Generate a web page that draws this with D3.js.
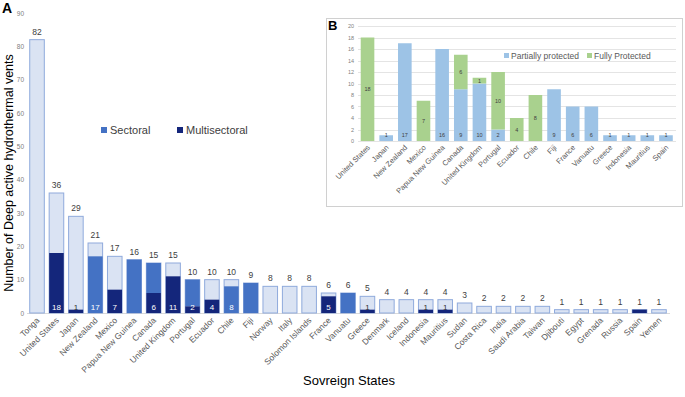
<!DOCTYPE html>
<html lang="en">
<head>
  <meta charset="UTF-8">
  <title>Deep active hydrothermal vents</title>
  <script src="https://d3js.org/d3.v7.min.js"></script>
  <style>
    body { margin: 0; background: #fff; }
    text { font-family: "Liberation Sans", Arial, sans-serif; }
  </style>
</head>
<body>
  <svg width="685" height="397"></svg>
<script>
  // ---- panel A data ----
  const states = ['Tonga', 'United States', 'Japan', 'New Zealand', 'Mexico', 'Papua New Guinea',
    'Canada', 'United Kingdom', 'Portugal', 'Ecuador', 'Chile', 'Fiji', 'Norway', 'Italy',
    'Solomon Islands', 'France', 'Vanuatu', 'Greece', 'Denmark', 'Iceland', 'Indonesia',
    'Mauritius', 'Sudan', 'Costa Rica', 'India', 'Saudi Arabia', 'Taiwan', 'Djibouti', 'Egypt',
    'Grenada', 'Russia', 'Spain', 'Yemen']
  const totals = [82, 36, 29, 21, 17, 16, 15, 15, 10, 10, 10, 9, 8, 8, 8, 6, 6, 5, 4, 4, 4, 4,
    3, 2, 2, 2, 2, 1, 1, 1, 1, 1, 1]
  const multisectoral = [0, 18, 1, 0, 7, 0, 6, 11, 2, 4, 0, 0, 0, 0, 0, 5, 0, 1, 0, 0, 1, 1,
    0, 0, 0, 0, 0, 0, 0, 0, 0, 1, 0]
  const sectoral = [0, 0, 0, 17, 0, 16, 9, 0, 8, 0, 8, 9, 0, 0, 0, 0, 6, 0, 0, 0, 0, 0,
    0, 0, 0, 0, 0, 0, 0, 0, 0, 0, 0]
  // numbers written at the foot of the bars
  const innerLabels = ['', '18', '1', '17', '7', '', '6', '11', '2', '4', '8', '', '', '', '', '5', '',
    '1', '', '', '1', '1', '', '', '', '', '', '', '', '', '', '', '']
  const yTicksA = d3.range(0, 91, 10)

  // ---- panel B data ----
  const statesB = ['United States', 'Japan', 'New Zealand', 'Mexico', 'Papua New Guinea', 'Canada',
    'United Kingdom', 'Portugal', 'Ecuador', 'Chile', 'Fiji', 'France', 'Vanuatu', 'Greece',
    'Indonesia', 'Mauritius', 'Spain']
  const partial = [0, 1, 17, 0, 16, 9, 10, 2, 0, 0, 9, 6, 6, 1, 1, 1, 1]
  const fully = [18, 0, 0, 7, 0, 6, 1, 10, 4, 8, 0, 0, 0, 0, 0, 0, 0]
  const yTicksB = d3.range(0, 21, 2)

  const cLight = '#dae3f3', cLightStroke = '#8faadc', cSect = '#4472c4', cMulti = '#14267b'
  const cPartial = '#9dc3e6', cFull = '#a9d18e'

  const svg = d3.select('svg')

  /**
   * Panel A
   */
  const x = d3.scaleBand().domain(states).range([27.3, 668.7])
    .paddingInner(0.25).paddingOuter(0.125)
  const y = d3.scaleLinear().domain([0, 90]).range([313, 13])

  const gA = svg.append('g')

  gA.append('line')
    .attr('x1', 27).attr('x2', 670).attr('y1', y(0) + 0.5).attr('y2', y(0) + 0.5)
    .attr('stroke', '#d9d9d9')

  gA.append('g')
    .attr('transform', 'translate(24,0)')
    .call(d3.axisLeft(y).tickValues(yTicksA).tickSize(0).tickPadding(0))
    .call(g => g.select('.domain').remove())
    .call(g => g.selectAll('text').attr('fill', '#808080').attr('font-size', '6.5px')
      .style('font-family', '"Liberation Sans", Arial, sans-serif'))

  const bars = gA.selectAll('.barA').data(states).join('g').attr('class', 'barA')

  // unprotected part (whole bar behind)
  bars.append('rect')
    .attr('x', d => x(d))
    .attr('width', x.bandwidth())
    .attr('y', (d, i) => y(totals[i]))
    .attr('height', (d, i) => y(0) - y(totals[i]))
    .attr('fill', cLight)
    .attr('stroke', cLightStroke)
    .attr('stroke-width', 1)

  // sectoral sits on top of multisectoral
  bars.filter((d, i) => sectoral[i] > 0).append('rect')
    .attr('x', d => x(d))
    .attr('width', x.bandwidth())
    .attr('y', d => { const i = states.indexOf(d); return y(multisectoral[i] + sectoral[i]) })
    .attr('height', d => { const i = states.indexOf(d); return y(multisectoral[i]) - y(multisectoral[i] + sectoral[i]) })
    .attr('fill', cSect)

  bars.filter((d, i) => multisectoral[i] > 0).append('rect')
    .attr('x', d => x(d))
    .attr('width', x.bandwidth())
    .attr('y', d => y(multisectoral[states.indexOf(d)]))
    .attr('height', d => y(0) - y(multisectoral[states.indexOf(d)]))
    .attr('fill', cMulti)

  // totals above
  bars.append('text')
    .attr('x', d => x(d) + x.bandwidth() / 2)
    .attr('y', (d, i) => y(totals[i]) - 5)
    .attr('text-anchor', 'middle')
    .attr('font-size', '8.5px')
    .attr('fill', '#404040')
    .text((d, i) => totals[i])

  // labels at the foot
  bars.append('text')
    .attr('x', d => x(d) + x.bandwidth() / 2)
    .attr('y', y(0) - 3)
    .attr('text-anchor', 'middle')
    .attr('font-size', '8px')
    .attr('fill', (d, i) => innerLabels[i] === '1' ? '#303030' : '#ffffff')
    .text((d, i) => innerLabels[i])

  // x labels
  gA.append('g').selectAll('text').data(states).join('text')
    .attr('transform', d => `translate(${x(d) + x.bandwidth() / 2 + 3},${y(0) + 8}) rotate(-45)`)
    .attr('text-anchor', 'end')
    .attr('font-size', '8.5px')
    .attr('fill', '#595959')
    .text(d => d)

  // titles
  gA.append('text')
    .attr('transform', `translate(13,${(y(0) + y(90)) / 2 + 10}) rotate(-90)`)
    .attr('text-anchor', 'middle')
    .attr('font-size', '12.5px')
    .attr('fill', '#000')
    .text('Number of Deep active hydrothermal vents')

  gA.append('text')
    .attr('x', 349).attr('y', 385)
    .attr('text-anchor', 'middle')
    .attr('font-size', '13px')
    .attr('fill', '#000')
    .text('Sovreign States')

  gA.append('text')
    .attr('x', 2).attr('y', 13)
    .attr('font-size', '14px').attr('font-weight', 'bold')
    .text('A')

  // legend A
  const legA = [['Sectoral', cSect, 101], ['Multisectoral', cMulti, 177]]
  const lg = gA.append('g').selectAll('g').data(legA).join('g')
    .attr('transform', d => `translate(${d[2]},127)`)
  lg.append('rect').attr('width', 6).attr('height', 6).attr('fill', d => d[1])
  lg.append('text').attr('x', 9).attr('y', 7).attr('font-size', '11px').attr('fill', '#404040')
    .text(d => d[0])

  /**
   * Panel B (inset)
   */
  const gB = svg.append('g')
  gB.append('rect')
    .attr('x', 326.5).attr('y', 18.5).attr('width', 356).attr('height', 188)
    .attr('fill', '#fff').attr('stroke', '#d0d0d0')

  const xB = d3.scaleBand().domain(statesB).range([358.2, 675.3])
    .paddingInner(0.27).paddingOuter(0.135)
  const yB = d3.scaleLinear().domain([0, 20]).range([141, 26])

  gB.append('g').selectAll('line').data(yTicksB).join('line')
    .attr('x1', 358).attr('x2', 676)
    .attr('y1', d => Math.round(yB(d)) + 0.5).attr('y2', d => Math.round(yB(d)) + 0.5)
    .attr('stroke', '#e4e4e4')

  gB.append('g')
    .attr('transform', 'translate(354,0)')
    .call(d3.axisLeft(yB).tickValues(yTicksB).tickSize(0).tickPadding(0))
    .call(g => g.select('.domain').remove())
    .call(g => g.selectAll('text').attr('fill', '#808080').attr('font-size', '5.5px')
      .style('font-family', '"Liberation Sans", Arial, sans-serif'))

  const barsB = gB.selectAll('.barB').data(statesB).join('g').attr('class', 'barB')
  barsB.append('rect')
    .attr('x', d => xB(d)).attr('width', xB.bandwidth())
    .attr('y', (d, i) => yB(partial[i]))
    .attr('height', (d, i) => yB(0) - yB(partial[i]))
    .attr('fill', cPartial)
  barsB.append('rect')
    .attr('x', d => xB(d)).attr('width', xB.bandwidth())
    .attr('y', (d, i) => yB(partial[i] + fully[i]))
    .attr('height', (d, i) => yB(partial[i]) - yB(partial[i] + fully[i]))
    .attr('fill', cFull)

  barsB.filter((d, i) => partial[i] > 0).append('text')
    .attr('x', d => xB(d) + xB.bandwidth() / 2)
    .attr('y', yB(0) - 4)
    .attr('text-anchor', 'middle').attr('font-size', '5.5px').attr('fill', '#404040')
    .text(d => partial[statesB.indexOf(d)])
  barsB.filter((d, i) => fully[i] > 0).append('text')
    .attr('x', d => xB(d) + xB.bandwidth() / 2)
    .attr('y', d => { const i = statesB.indexOf(d); return yB(partial[i] + fully[i] / 2) + 2 })
    .attr('text-anchor', 'middle').attr('font-size', '5.5px').attr('fill', '#404040')
    .text(d => fully[statesB.indexOf(d)])

  gB.append('g').selectAll('text').data(statesB).join('text')
    .attr('transform', d => `translate(${xB(d) + xB.bandwidth() / 2 + 3},${yB(0) + 7}) rotate(-45)`)
    .attr('text-anchor', 'end')
    .attr('font-size', '7.5px')
    .attr('fill', '#595959')
    .text(d => d)

  gB.append('text')
    .attr('x', 328).attr('y', 30)
    .attr('font-size', '13px').attr('font-weight', 'bold')
    .text('B')

  const legB = [['Partially protected', cPartial, 504], ['Fully Protected', cFull, 587]]
  const lgb = gB.append('g').selectAll('g').data(legB).join('g')
    .attr('transform', d => `translate(${d[2]},53)`)
  lgb.append('rect').attr('width', 5).attr('height', 5).attr('fill', d => d[1])
  lgb.append('text').attr('x', 7).attr('y', 6).attr('font-size', '8.5px').attr('fill', '#595959')
    .text(d => d[0])
</script>
</body>
</html>
